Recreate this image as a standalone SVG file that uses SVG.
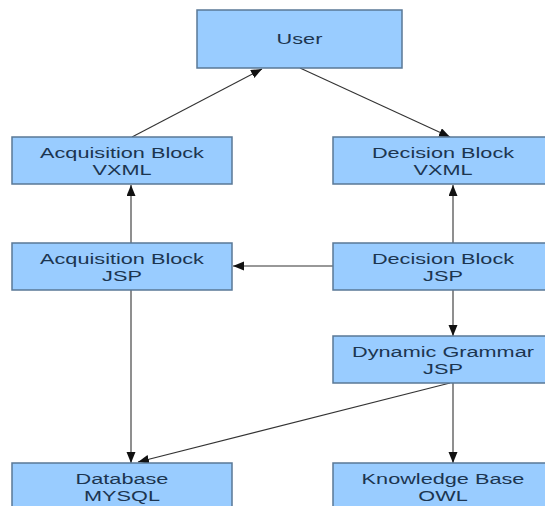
<svg xmlns="http://www.w3.org/2000/svg" width="545" height="506" viewBox="0 0 545 506">
<style>
.box{fill:#99ccff;stroke:#5a7896;stroke-width:1.5}
.lbl{font-family:"Liberation Sans",Arial,sans-serif;font-size:15.5px;fill:#1c3550;text-anchor:middle}
.con{stroke:#333;stroke-width:1.1;fill:none;marker-end:url(#ah)}
</style>
<defs>
<marker id="ah" markerUnits="userSpaceOnUse" markerWidth="12" markerHeight="10" refX="11" refY="4.5" orient="auto">
<path d="M0,0 L11,4.5 L0,9 z" fill="#111"/>
</marker>
</defs>
<rect width="545" height="506" fill="#fff"/>
<g id="connectors">
<path class="con" d="M132,137 L262,69"/>
<path class="con" d="M300,68 L450,137"/>
<path class="con" d="M131,243 L131,185"/>
<path class="con" d="M453,243 L453,185"/>
<path class="con" d="M333,266 L233,266"/>
<path class="con" d="M453,290 L453,336"/>
<path class="con" d="M453,383 L453,463"/>
<path class="con" d="M131,290 L131,463"/>
<path class="con" d="M450,383 L138,462"/>
</g>
<g id="user">
<rect class="box" x="197" y="10" width="205" height="58"/>
<text class="lbl" transform="matrix(1.4 0 0 1 299.5 44)" x="0" y="0">User</text>
</g>
<g id="acq-vxml">
<rect class="box" x="12" y="137" width="220" height="47"/>
<text class="lbl" transform="matrix(1.4 0 0 1 122 0)" x="0" y="158">Acquisition Block</text>
<text class="lbl" transform="matrix(1.4 0 0 1 122 0)" x="0" y="175">VXML</text>
</g>
<g id="dec-vxml">
<rect class="box" x="333" y="137" width="220" height="47"/>
<text class="lbl" transform="matrix(1.4 0 0 1 443 0)" x="0" y="158">Decision Block</text>
<text class="lbl" transform="matrix(1.4 0 0 1 443 0)" x="0" y="175">VXML</text>
</g>
<g id="acq-jsp">
<rect class="box" x="12" y="243" width="220" height="47"/>
<text class="lbl" transform="matrix(1.4 0 0 1 122 0)" x="0" y="264">Acquisition Block</text>
<text class="lbl" transform="matrix(1.4 0 0 1 122 0)" x="0" y="281">JSP</text>
</g>
<g id="dec-jsp">
<rect class="box" x="333" y="243" width="220" height="47"/>
<text class="lbl" transform="matrix(1.4 0 0 1 443 0)" x="0" y="264">Decision Block</text>
<text class="lbl" transform="matrix(1.4 0 0 1 443 0)" x="0" y="281">JSP</text>
</g>
<g id="dyn-grammar">
<rect class="box" x="333" y="336" width="220" height="47"/>
<text class="lbl" transform="matrix(1.4 0 0 1 443 0)" x="0" y="357">Dynamic Grammar</text>
<text class="lbl" transform="matrix(1.4 0 0 1 443 0)" x="0" y="374">JSP</text>
</g>
<g id="database">
<rect class="box" x="12" y="463" width="220" height="50"/>
<text class="lbl" transform="matrix(1.4 0 0 1 122 0)" x="0" y="484">Database</text>
<text class="lbl" transform="matrix(1.4 0 0 1 122 0)" x="0" y="501">MYSQL</text>
</g>
<g id="knowledge-base">
<rect class="box" x="333" y="463" width="220" height="50"/>
<text class="lbl" transform="matrix(1.4 0 0 1 443 0)" x="0" y="484">Knowledge Base</text>
<text class="lbl" transform="matrix(1.4 0 0 1 443 0)" x="0" y="501">OWL</text>
</g>
</svg>
